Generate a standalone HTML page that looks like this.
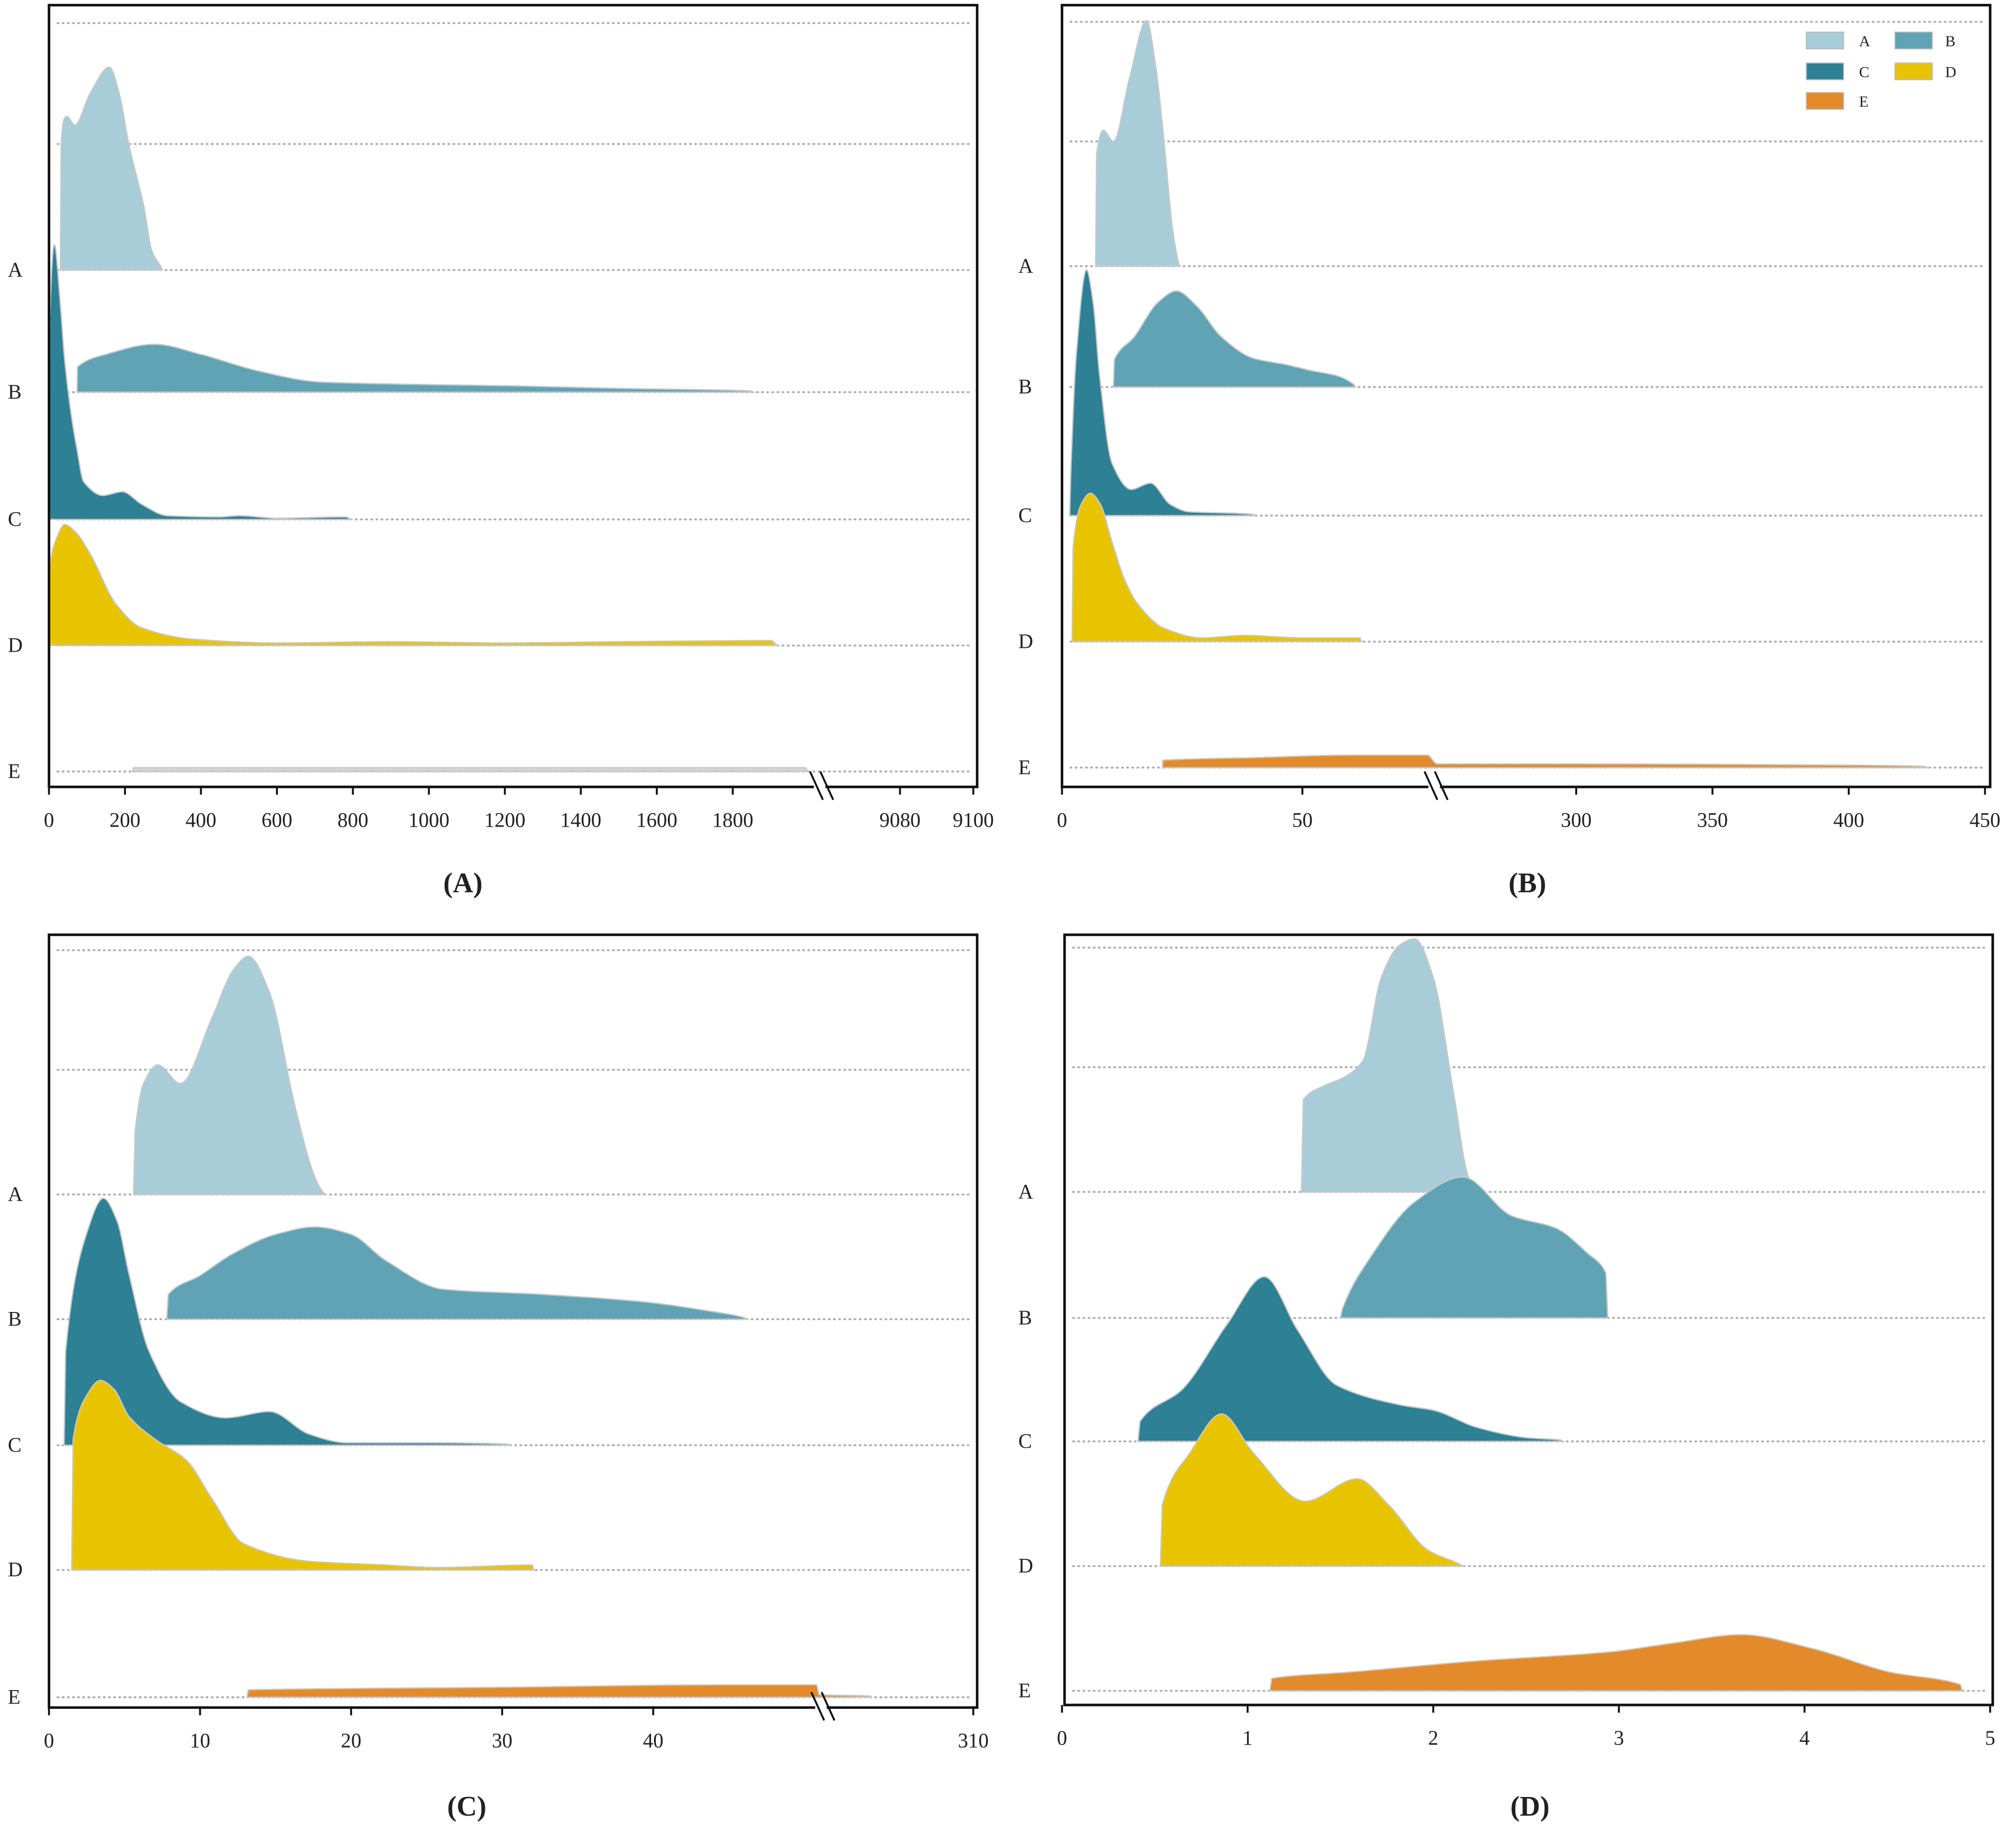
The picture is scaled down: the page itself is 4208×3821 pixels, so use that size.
<!DOCTYPE html>
<html><head><meta charset="utf-8">
<style>
html,body{margin:0;padding:0;background:#fff;}
svg{display:block;}
text{font-family:"Liberation Serif",serif;fill:#222;}
</style></head>
<body>
<svg id="fig" width="4208" height="3821" viewBox="0 0 1568 1424" xmlns="http://www.w3.org/2000/svg">
<g id="legend">
  <rect x="1405" y="25" width="29" height="13" fill="#a8cdd8" stroke="#bbb" stroke-width="0.8"/>
  <text x="1446" y="36" font-size="12">A</text>
  <rect x="1474" y="25" width="29" height="13" fill="#5fa3b5" stroke="#bbb" stroke-width="0.8"/>
  <text x="1513" y="36" font-size="12">B</text>
  <rect x="1405" y="49" width="29" height="13" fill="#2e8094" stroke="#bbb" stroke-width="0.8"/>
  <text x="1446" y="60" font-size="12">C</text>
  <rect x="1474" y="49" width="29" height="13" fill="#e8c400" stroke="#bbb" stroke-width="0.8"/>
  <text x="1513" y="60" font-size="12">D</text>
  <rect x="1405" y="72" width="29" height="13" fill="#e38b2a" stroke="#bbb" stroke-width="0.8"/>
  <text x="1446" y="83" font-size="12">E</text>
</g>
</svg>
<script>
const categories = ['A','B','C','D','E'];
const colors = ['#a8cdd8','#5fa3b5','#2e8094','#e8c400','#e38b2a'];

// Panel A data: [x, density in row units]
const pA_A = [[30,0],[32,1.0],[40,1.2],[47,1.22],[68,1.15],[108,1.4],[159,1.61],[185,1.4],[210,1.0],[250,0.5],[271,0.15],[294,0.03],[300,0]];
const pA_B = [[74,0],[75,0.2],[150,0.3],[277,0.38],[400,0.3],[548,0.17],[717,0.08],[1000,0.06],[1225,0.05],[1500,0.03],[1850,0.01],[1855,0]];
const pA_C = [[0,0],[2,1.6],[14,2.18],[30,1.7],[41,1.27],[60,0.8],[74,0.55],[91,0.3],[142,0.19],[193,0.22],[244,0.12],[311,0.03],[450,0.02],[500,0.03],[600,0.01],[780,0.02],[800,0]];
const pA_D = [[0,0],[1,0.6],[20,0.85],[41,0.96],[70,0.9],[108,0.73],[176,0.33],[244,0.14],[379,0.05],[600,0.02],[900,0.03],[1200,0.02],[1500,0.03],[1900,0.04],[1920,0]];
const pA_E = [[220,0],[222,0.03],[1990,0.03],[2000,0]];
const pA_ticks = [0,200,400,600,800,1000,1200,1400,1600,1800,9080,9100];
const pA_tickLabels = ['0','200','400','600','800','1000','1200','1400','1600','1800','9080','9100'];

// Panel B data
const pB_A = [[7,0],[7.2,0.9],[8.6,1.09],[10.7,1.0],[14,1.5],[17.6,1.97],[19.5,1.6],[21.1,1.05],[23,0.3],[24.3,0.02],[24.5,0]];
const pB_B = [[10.7,0],[10.9,0.22],[15,0.4],[20,0.68],[23.8,0.77],[28,0.65],[33.2,0.4],[39.8,0.23],[46.5,0.18],[52,0.13],[57.2,0.09],[60.7,0.02],[61,0]];
const pB_C = [[1.6,0],[1.8,0.3],[3,1.3],[5.1,1.97],[6.5,1.7],[7.8,1.13],[10.4,0.42],[14.4,0.21],[18.4,0.26],[22.5,0.09],[26.5,0.03],[35,0.02],[39.8,0.01],[40,0]];
const pB_D = [[2.1,0],[2.3,0.75],[4,1.1],[5.9,1.19],[8,1.1],[10.4,0.8],[13,0.5],[15.8,0.3],[21.1,0.11],[29.1,0.03],[38,0.05],[50,0.03],[62,0.03],[62.3,0]];
const pB_E = [[20.9,0],[21,0.06],[40,0.08],[60,0.1],[76,0.1],[80,0.03],[300,0.03],[400,0.02],[428,0.01],[429,0]];
const pB_ticks = [0,50,300,350,400,450];
const pB_tickLabels = ['0','50','300','350','400','450'];

// Panel C data
const pC_A = [[5.6,0],[5.7,0.5],[6.3,0.9],[7.2,1.04],[8.7,0.89],[10.8,1.42],[12.2,1.8],[13.2,1.91],[14.6,1.62],[16.3,0.7],[17.6,0.14],[18.2,0.01],[18.3,0]];
const pC_B = [[7.8,0],[7.9,0.2],[10,0.35],[12.1,0.52],[15,0.68],[17.6,0.74],[20,0.68],[22.3,0.47],[26.1,0.24],[32.5,0.2],[39.3,0.14],[44,0.06],[46.1,0.01],[46.2,0]];
const pC_C = [[1.0,0],[1.1,0.75],[2.5,1.7],[3.6,1.98],[4.5,1.8],[5.3,1.37],[6.6,0.76],[8.7,0.35],[11.7,0.22],[14.6,0.27],[17.2,0.09],[19.7,0.02],[25,0.02],[30.4,0.01],[30.5,0]];
const pC_D = [[1.5,0],[1.6,1.05],[2.5,1.4],[3.4,1.52],[4.3,1.45],[5.3,1.23],[7,1.05],[9.1,0.88],[10.8,0.57],[12.9,0.21],[17.2,0.07],[22.3,0.04],[25.7,0.02],[32,0.04],[32.1,0]];
const pC_E = [[13.1,0],[13.2,0.06],[30,0.08],[45,0.1],[50.8,0.1],[51,0.02],[302,0.01],[302.5,0]];
const pC_ticks = [0,10,20,30,40,310];
const pC_tickLabels = ['0','10','20','30','40','310'];

// Panel D data
const pD_A = [[1.29,0],[1.3,0.74],[1.41,0.85],[1.52,0.92],[1.62,1.05],[1.72,1.72],[1.82,1.98],[1.9,2.03],[2.0,1.72],[2.11,0.79],[2.19,0.12],[2.24,0.01],[2.25,0]];
const pD_B = [[1.5,0],[1.51,0.07],[1.65,0.46],[1.9,0.93],[2.16,1.13],[2.42,0.82],[2.66,0.72],[2.83,0.52],[2.93,0.36],[2.94,0]];
const pD_C = [[0.41,0],[0.42,0.16],[0.65,0.42],[0.89,0.94],[1.09,1.32],[1.27,0.89],[1.48,0.45],[1.83,0.29],[2.0,0.25],[2.24,0.11],[2.5,0.03],[2.69,0.01],[2.7,0]];
const pD_D = [[0.53,0],[0.54,0.49],[0.69,0.91],[0.86,1.22],[1.03,0.91],[1.31,0.52],[1.59,0.70],[1.76,0.49],[1.97,0.13],[2.15,0.01],[2.16,0]];
const pD_E = [[1.12,0],[1.13,0.1],[1.55,0.15],[2.24,0.24],[2.94,0.31],[3.28,0.38],[3.66,0.45],[4.04,0.34],[4.46,0.15],[4.84,0.05],[4.85,0]];
const pD_ticks = [0,1,2,3,4,5];
const pD_tickLabels = ['0','1','2','3','4','5'];

const NS = 'http://www.w3.org/2000/svg';
const svg = document.getElementById('fig');
const legend = document.getElementById('legend');
function mk(tag, attrs, parent){
  const e = document.createElementNS(NS, tag);
  for (const k in attrs) e.setAttribute(k, attrs[k]);
  (parent||svg).appendChild(e);
  return e;
}
function piecewise(x0, px0, s1, cut1, cut2, px2ref, x2ref, s2){
  return function(x){
    if (cut1 === null || x <= cut1) return px0 + (x - x0) * s1;
    const a = px0 + (cut1 - x0) * s1, b = px2ref + (cut2 - x2ref) * s2;
    if (x >= cut2) return px2ref + (x - x2ref) * s2;
    return a + (x - cut1) / (cut2 - cut1) * (b - a);
  };
}
// monotone cubic path through pixel points
function monoPath(P){
  const n = P.length;
  const d = [], m = [];
  for (let i=0;i<n-1;i++){ const dx = P[i+1][0]-P[i][0]; d.push(dx>0.0001 ? (P[i+1][1]-P[i][1])/dx : 0); }
  for (let i=0;i<n;i++){
    if (i===0) m.push(0);
    else if (i===n-1) m.push(0);
    else if (d[i-1]*d[i] <= 0) m.push(0);
    else m.push(2/(1/d[i-1]+1/d[i]));
  }
  let s = 'M'+P[0][0].toFixed(2)+','+P[0][1].toFixed(2);
  for (let i=0;i<n-1;i++){
    const dx = P[i+1][0]-P[i][0];
    if (dx < 1.5){ s += 'L'+P[i+1][0].toFixed(2)+','+P[i+1][1].toFixed(2); continue; }
    const c1x = P[i][0]+dx/3, c1y = P[i][1]+m[i]*dx/3;
    const c2x = P[i+1][0]-dx/3, c2y = P[i+1][1]-m[i+1]*dx/3;
    s += 'C'+c1x.toFixed(2)+','+c1y.toFixed(2)+' '+c2x.toFixed(2)+','+c2y.toFixed(2)+' '+P[i+1][0].toFixed(2)+','+P[i+1][1].toFixed(2);
  }
  return s+'Z';
}

const panels = [
  {id:'a', title:'(A)', L:38, R:760, T:4, B:612, base:[210,305,404,502,600], row:98,
   sx: piecewise(0,38,0.2955,2000,9060,700,9080,2.85),
   series:[pA_A,pA_B,pA_C,pA_D,pA_E], ticks:pA_ticks, labels:pA_tickLabels, brk:636, titleX:360, titleY:694, ylx:6,
   fills:['#a8cdd8','#5fa3b5','#2e8094','#e8c400','#d4d4d4']},
  {id:'b', title:'(B)', L:826, R:1548, T:4, B:612, base:[207,301,401,499,597], row:97,
   sx: piecewise(0,826,3.74,78,250,1226,300,2.12),
   series:[pB_A,pB_B,pB_C,pB_D,pB_E], ticks:pB_ticks, labels:pB_tickLabels, brk:1114, titleX:1188, titleY:694, ylx:792, fills:colors},
  {id:'c', title:'(C)', L:38, R:760, T:727, B:1328, base:[929,1026,1124,1221,1320], row:97,
   sx: piecewise(0,38,11.75,51,303,757,310,11.4),
   series:[pC_A,pC_B,pC_C,pC_D,pC_E], ticks:pC_ticks, labels:pC_tickLabels, brk:637, titleX:363, titleY:1412, ylx:6, fills:colors},
  {id:'d', title:'(D)', L:828, R:1550, T:727, B:1326, base:[927,1025,1121,1218,1315], row:97,
   sx: piecewise(0,826,144.4,null,null,0,0,0),
   series:[pD_A,pD_B,pD_C,pD_D,pD_E], ticks:pD_ticks, labels:pD_tickLabels, brk:null, titleX:1190, titleY:1412, ylx:792, fills:colors}
];

panels.forEach(p=>{
  const g = mk('g',{});
  
  
  const gridYs = [p.base[0]-2*p.row+4, p.base[0]-p.row].concat(p.base);
  gridYs.forEach((y)=>{
    const ln = mk('line',{x1:p.L+6,x2:p.R-4,y1:y,y2:y,stroke:'#aaa','stroke-width':1.4,'stroke-dasharray':'2 2'},g);
    
    
  });
  p.series.forEach((pts,i)=>{
    const b = p.base[i];
    const P = pts.map(pt=>[p.sx(pt[0]), b - pt[1]*p.row]);
    const path = mk('path',{d:monoPath(P), fill:p.fills[i], stroke:'#c8c8c8','stroke-width':1},g);
    
    
    const t = mk('text',{x:p.ylx, y:b+5, 'font-size':16},g);
    t.textContent = categories[i];
    
    
  });
  const fr = mk('rect',{x:p.L,y:p.T,width:p.R-p.L,height:p.B-p.T,fill:'none',stroke:'#111','stroke-width':2},g);
  
  
  p.ticks.forEach((v,i)=>{
    const x = p.sx(v);
    const tk = mk('line',{x1:x,x2:x,y1:p.B,y2:p.B+6,stroke:'#111','stroke-width':1.5},g);
    
    
    const tl = mk('text',{x:x,y:p.B+31,'font-size':16,'text-anchor':'middle'},g);
    tl.textContent = p.labels[i];
    
    
  });
  if (p.brk !== null){
    const bw = mk('rect',{x:p.brk-3,y:p.B-4,width:9,height:8,fill:'#fff'},g);
    
    
    [0,8].forEach(o=>{
      const bl = mk('line',{x1:p.brk-6+o,y1:p.B-12,x2:p.brk+4+o,y2:p.B+10,stroke:'#111','stroke-width':1.5},g);
      
      
    });
  }
  const tt = mk('text',{x:p.titleX,y:p.titleY,'font-size':22,'font-weight':'bold','text-anchor':'middle'},g);
  tt.textContent = p.title;
  
  
});
svg.appendChild(legend);
</script>
</body></html>
